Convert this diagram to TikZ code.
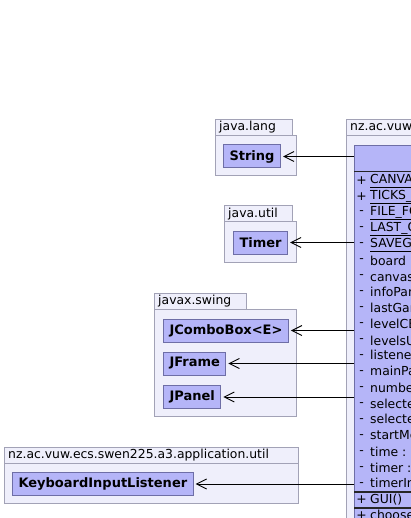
\documentclass[tikz,border=0pt]{standalone}
\usepackage{fontspec}
\setmainfont{DejaVu Sans}
\usetikzlibrary{arrows.meta}
\definecolor{pkgfill}{HTML}{EFEFFB}
\definecolor{pkgdraw}{HTML}{A2A2B6}
\definecolor{clsfill}{HTML}{B5B5F8}
\definecolor{clsdraw}{HTML}{6E6EA6}
\tikzset{
	pkg/.style={draw=pkgdraw, fill=pkgfill, line width=1pt},
	pkglabel/.style={anchor=west, inner sep=0pt, font=\fontsize{12.4}{14}\selectfont},
	cls/.style={draw=clsdraw, fill=clsfill, line width=1pt, inner xsep=6pt, minimum height=23pt, font=\fontsize{13}{15}\bfseries},
	clsline/.style={draw=black!85, line width=1.2pt},
	member/.style={anchor=west, inner sep=0pt, font=\fontsize{12.4}{14}\selectfont},
	dep/.style={-{Straight Barb[length=10pt,width=10pt]}, line width=0.9pt, shorten >=2pt}
}

\begin{document}
\begin{tikzpicture}[x=1pt, y=-1pt]
			%%%%% START %%%%%
			
			\useasboundingbox[fill=white] (0, 0) rectangle (411, 518);
			\clip (0, 0) rectangle (411, 518);
			
			% packages
			\draw[pkg] (215, 119.5) rectangle (292, 135.5);
			\draw[pkg] (215, 135.5) rectangle (296, 176);
			\node[pkglabel] (lang) at (219, 127.5) {java.lang};
			
			\draw[pkg] (224, 206) rectangle (292, 222);
			\draw[pkg] (224, 222) rectangle (296, 262);
			\node[pkglabel] (util) at (228, 214) {java.util};
			
			\draw[pkg] (154, 293) rectangle (246, 309);
			\draw[pkg] (154, 309) rectangle (296, 416);
			\node[pkglabel] (swing) at (158, 301) {javax.swing};
			
			\draw[pkg] (4, 447) rectangle (298, 463);
			\draw[pkg] (4, 463) rectangle (298, 503);
			\node[pkglabel] (apputil) at (8, 455) {nz.ac.vuw.ecs.swen225.a3.application.util};
			
			\draw[pkg] (346, 119.5) rectangle (560, 135.5);
			\draw[pkg] (346, 135.5) rectangle (560, 560);
			\node[pkglabel] (app) at (350, 127.5) {nz.ac.vuw.ecs.swen225.a3.application};
			
			% classes
			\node[cls, anchor=west] (String) at (223, 156.5) {String};
			\node[cls, anchor=west] (Timer) at (233, 242.5) {Timer};
			\node[cls, anchor=west] (JComboBox) at (163, 330.5) {JComboBox<E>};
			\node[cls, anchor=west] (JFrame) at (163, 363.5) {JFrame};
			\node[cls, anchor=west] (JPanel) at (163, 397) {JPanel};
			\node[cls, anchor=west] (KeyListener) at (12, 484) {KeyboardInputListener};
			
			\node[cls, anchor=north west, minimum width=200pt, minimum height=420pt] (GUI) at (354, 145) {};
			\draw[clsline] (354, 171.5) -- (560, 171.5);
			\draw[clsline] (354, 492) -- (560, 492);
			\draw[clsline] (354, 508) -- (560, 508);
			
			\foreach \sym/\txt [count=\i] in {
					+/\underline{CANVAS\_SIZE : int},
					+/\underline{TICKS\_PER\_SECOND : int},
					-/\underline{FILE\_FORMAT : String},
					-/\underline{LAST\_GAME\_FILE : String},
					-/\underline{SAVEGAME\_DIR : String},
					-/board : Board,
					-/canvas : Canvas,
					-/infoPanel : JPanel,
					-/lastGame : String,
					-/levelCB : JComboBox,
					-/levelsUnlocked : int,
					-/listener : KeyboardInputListener,
					-/mainPanel : JPanel,
					-/numberOfLevels : int,
					-/selectedLevel : int,
					-/selectedFile : String,
					-/startMenu : JPanel,
					-/time : int,
					-/timer : Timer,
					-/timerInfo : JLabel,
					+/GUI(),
					+/chooseLevel() : void}{
				\pgfmathsetmacro{\rowy}{\i < 21 ? 181 + (\i-1)*15.95 : 500 + (\i-21)*16}
				\node[member, anchor=center] (sym\i) at (361.5, \rowy) {\sym};
				\node[member] (att\i) at (370, \rowy) {\txt};
			}
			
			% dependencies
			\draw[dep] (GUI.west |- String.east) -- (String.east);
			\draw[dep] (GUI.west |- Timer.east) -- (Timer.east);
			\draw[dep] (GUI.west |- JComboBox.east) -- (JComboBox.east);
			\draw[dep] (GUI.west |- JFrame.east) -- (JFrame.east);
			\draw[dep] (GUI.west |- JPanel.east) -- (JPanel.east);
			\draw[dep] (GUI.west |- KeyListener.east) -- (KeyListener.east);
			
			%%%%% END %%%%%
\end{tikzpicture}
\end{document}
